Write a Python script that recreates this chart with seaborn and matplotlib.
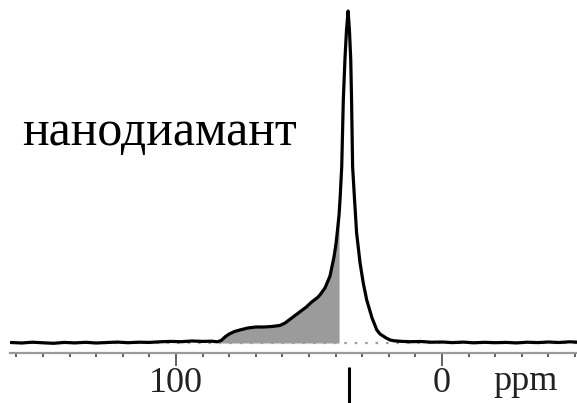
import numpy as np
import pandas as pd
import matplotlib
matplotlib.use("Agg")
import matplotlib.pyplot as plt
import seaborn as sns

# ---- data ----
ppm = [162, 158, 154, 150, 146, 142, 138, 134, 130, 126, 122, 118, 114, 110,
       106, 102, 98, 94, 90, 86.5, 84.5, 83.0, 81.6, 80.0, 78.0, 76.0, 73.0,
       70.0, 67.0, 64.0, 61.0, 59.0, 57.0, 55.0, 53.0, 51.0, 49.0, 47.0,
       45.9, 44.0, 43.2, 42.1, 41.4, 40.6, 39.8, 39.4, 38.7, 38.3, 37.7,
       37.1, 36.5, 35.9, 35.3, 34.8, 34.3, 34.0, 33.6, 32.8, 32.1, 30.8,
       29.6, 28.3, 26.3, 24.5, 23.3, 21.0, 19.5, 18.0, 15.0,
       12.0, 8.0, 4.0, 0.0, -4.0, -8.0, -12.0, -16.0, -20.0, -24.0, -28.0,
       -32.0, -36.0, -40.0, -44.0, -48.0, -51.0]
intensity = [0.5, 0.0, 0.8, 0.2, -0.3, 0.6, 0.1, 0.7, 0.0, 0.5, 0.9, 0.3,
             0.8, 0.6, 1.2, 1.6, 1.3, 2.0, 1.6, 1.8, 1.2, 2.5, 6, 9, 11.5,
             13, 15, 16, 16, 16.5, 17.5, 20, 24, 28, 32, 36, 41, 45,
             48, 55, 60, 67, 76, 86, 100, 110, 128, 145, 176,
             243, 283, 313, 332, 313, 283, 243, 176, 140, 110, 80,
             60, 43, 25, 13, 9, 5, 3, 2.2, 1.6,
             1.3, 1.5, 0.8, 1.0, 0.4, 0.9, 0.2, 0.7, 0.3, 0.6, 0.1,
             0.8, 0.4, 1.0, 0.5, 1.2, 0.8]
shade_from = 84.0
shade_to = 38.7
xticks_major = [100, 0]
xtick_labels = ["100", "0"]
title_text = "нанодиамант"
unit_text = "ppm"
marker_ppm = 35.0

df = pd.DataFrame({"ppm": ppm, "I": intensity})

sns.set_theme(style="white")
plt.rcParams["font.family"] = ["Liberation Serif", "DejaVu Serif"]

W, H = 577, 403
fig = plt.figure(figsize=(W / 100, H / 100), dpi=100)
ax = fig.add_axes([10 / W, 1 - 353 / H, 567 / W, 353 / H])

# baseline dotted
ax.axhline(0, color="#a0a0a0", lw=1.6, ls=(0, (1.2, 3.5)), zorder=1)

# shaded region
m = (df["ppm"] <= shade_from) & (df["ppm"] >= shade_to)
ax.fill_between(df["ppm"][m], 0, df["I"][m], color="#9b9b9b", lw=0, zorder=2)

sns.lineplot(data=df, x="ppm", y="I", sort=False, color="black", lw=2.3,
             ax=ax, zorder=3)

ax.set_xlim(162.4, -50.75)
ax.set_ylim(-10, 343)
ax.set_xlabel("")
ax.set_ylabel("")
ax.set_yticks([])

for s in ["top", "left", "right"]:
    ax.spines[s].set_visible(False)
ax.spines["bottom"].set_color("#9a9a9a")
ax.spines["bottom"].set_linewidth(1.6)

ax.set_xticks(xticks_major)
ax.set_xticklabels(xtick_labels, fontsize=26, color="#222222")
ax.set_xticks(np.arange(160, -51, -10), minor=True)
ax.tick_params(axis="x", which="major", direction="out", length=9, width=1.3,
               color="#555555", pad=1, bottom=True)
ax.tick_params(axis="x", which="minor", direction="out", length=3, width=1.3,
               color="#555555", bottom=True)

# marker bar below axis
ax.plot([marker_ppm, marker_ppm], [-24, -70], color="black", lw=2.2,
        clip_on=False, solid_capstyle="butt")

fig.text(493 / W, 1 - 390 / H, unit_text, fontsize=26, color="#222222",
         ha="left", va="baseline")
fig.text(22 / W, 1 - 145 / H, title_text, fontsize=36, color="black",
         ha="left", va="baseline")

fig.savefig("out.png", dpi=100)
